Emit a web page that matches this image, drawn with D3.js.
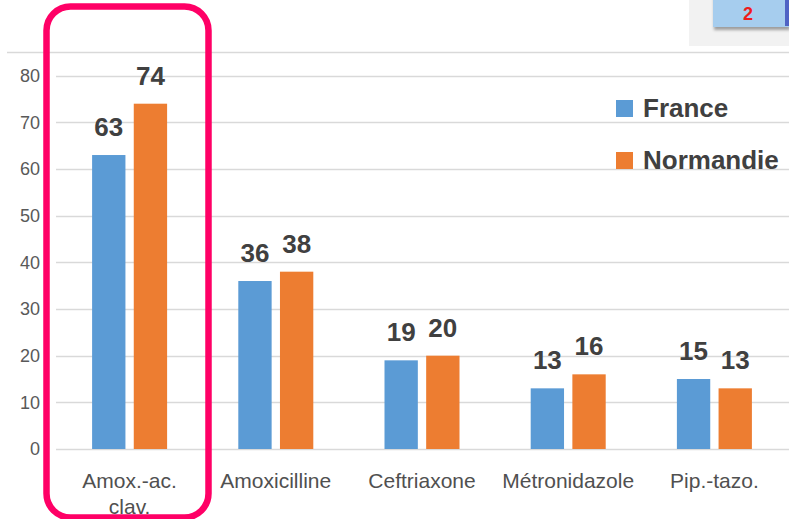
<!DOCTYPE html>
<html><head><meta charset="utf-8">
<script src="https://cdn.jsdelivr.net/npm/d3@7"></script>
<style>
html,body{margin:0;padding:0;background:#fff;}
svg{display:block;font-family:"Liberation Sans",Arial,sans-serif;}
</style></head>
<body>
<svg id="chart" width="789" height="519"></svg>
<script>
const categories = ["Amox.-ac. clav.", "Amoxicilline", "Ceftriaxone", "Métronidazole", "Pip.-tazo."];
const categoryLines = [["Amox.-ac.", "clav."], ["Amoxicilline"], ["Ceftriaxone"], ["Métronidazole"], ["Pip.-tazo."]];
const seriesNames = ["France", "Normandie"];
const franceValues = [63, 36, 19, 13, 15];
const normandieValues = [74, 38, 20, 16, 13];
const yTicks = [0, 10, 20, 30, 40, 50, 60, 70, 80];
const colors = ["#5b9bd5", "#ed7d31"];

const seriesValues = [franceValues, normandieValues];
const svg = d3.select("#chart");

// top-right inset box
svg.append("rect").attr("x", 689).attr("y", 0).attr("width", 100).attr("height", 46).attr("fill", "#f2f2f2");
const defs = svg.append("defs");
const f = defs.append("filter").attr("id", "sh").attr("x", "-20%").attr("y", "-20%").attr("width", "140%").attr("height", "160%");
f.append("feDropShadow").attr("dx", 1).attr("dy", 3).attr("stdDeviation", 1.5).attr("flood-color", "#000").attr("flood-opacity", 0.35);
svg.append("rect").attr("x", 713).attr("y", -6).attr("width", 76).attr("height", 33).attr("fill", "#a6cdee").attr("filter", "url(#sh)");
svg.append("rect").attr("x", 785).attr("y", -6).attr("width", 4).attr("height", 32).attr("fill", "#4f63c4");
svg.append("text").attr("x", 748).attr("y", 20).attr("text-anchor", "middle").attr("font-size", 18).attr("font-weight", "bold").attr("fill", "#ee1c1c").text("2");

// top frame line
svg.append("line").attr("x1", 7).attr("x2", 789).attr("y1", 52.5).attr("y2", 52.5).attr("stroke", "#d9d9d9").attr("stroke-width", 1.5);

const y = d3.scaleLinear().domain([0, 80]).range([449, 75.7]);
const x0 = d3.scaleBand().domain(categories).range([56.5, 787.5]).padding(0);
const bw = x0.bandwidth();
const x1 = d3.scaleBand().domain(seriesNames).range([bw * 0.2435, bw * 0.7565]).paddingInner(0.2);

// gridlines
svg.append("g").selectAll("line").data(yTicks).join("line")
  .attr("x1", 56).attr("x2", 789)
  .attr("y1", d => Math.round(y(d)) + 0.5).attr("y2", d => Math.round(y(d)) + 0.5)
  .attr("stroke", "#d9d9d9").attr("stroke-width", 1.5);

// y axis labels
const yAxis = d3.axisLeft(y).tickValues(yTicks).tickSize(0).tickPadding(0);
const ga = svg.append("g").attr("transform", "translate(40,0)").call(yAxis);
ga.select(".domain").remove();
ga.selectAll("text").attr("font-size", 18).attr("fill", "#595959").attr("font-family", "Liberation Sans, Arial, sans-serif");

// bars
const groups = svg.append("g").selectAll("g").data(categories).join("g")
  .attr("transform", d => `translate(${x0(d)},0)`);
groups.each(function(cat, i) {
  const g = d3.select(this);
  seriesNames.forEach((s, j) => {
    const v = seriesValues[j][i];
    g.append("rect").attr("x", x1(s)).attr("y", y(v)).attr("width", x1.bandwidth()).attr("height", y(0) - y(v)).attr("fill", colors[j]);
    g.append("text").attr("x", x1(s) + x1.bandwidth() / 2).attr("y", y(v) - 19)
      .attr("text-anchor", "middle").attr("font-size", 26).attr("font-weight", "bold").attr("fill", "#404040").text(v);
  });
});

// category labels
svg.append("g").selectAll("text").data(categories).join("text")
  .attr("x", d => x0(d) + bw / 2).attr("y", 488)
  .attr("text-anchor", "middle").attr("font-size", 21).attr("fill", "#505050")
  .each(function(d, i) {
    const t = d3.select(this);
    categoryLines[i].forEach((line, k) => {
      t.append("tspan").attr("x", x0(d) + bw / 2).attr("dy", k === 0 ? 0 : 26).text(line);
    });
  });

// legend
const legend = svg.append("g").selectAll("g").data(seriesNames).join("g")
  .attr("transform", (d, i) => `translate(616,${100 + i * 52})`);
legend.append("rect").attr("width", 17).attr("height", 17).attr("fill", (d, i) => colors[i]);
legend.append("text").attr("x", 27).attr("y", 17).attr("font-size", 26).attr("font-weight", "bold").attr("fill", "#404040").text(d => d);

// highlight rounded rectangle
svg.append("rect").attr("x", 46.5).attr("y", 6.5).attr("width", 162).attr("height", 511).attr("rx", 24).attr("ry", 24)
  .attr("fill", "none").attr("stroke", "#ff0066").attr("stroke-width", 6.5);
</script>
</body></html>
